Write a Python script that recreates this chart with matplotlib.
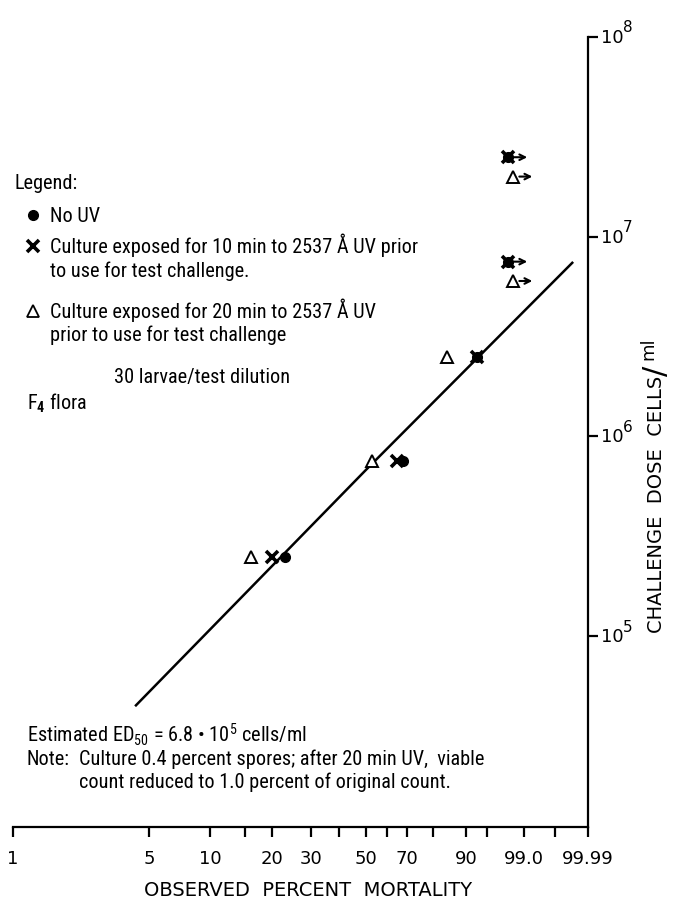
import numpy as np
import matplotlib
matplotlib.use('Agg')
import matplotlib.pyplot as plt
from matplotlib import font_manager, transforms
from matplotlib.lines import Line2D

# observed percent mortality vs challenge dose (cells/ml)
no_uv_pct = [23, 68, 93]
no_uv_dose = [2.5e5, 7.5e5, 2.5e6]
uv10_pct = [20, 65, 93]
uv10_dose = [2.5e5, 7.5e5, 2.5e6]
uv20_pct = [16, 53, 85]
uv20_dose = [2.5e5, 7.5e5, 2.5e6]

# doses giving 100% mortality, drawn at the right with an arrow
top_x_pct = [98.0, 98.0]
top_x_dose = [2.5e7, 7.5e6]
top_tri_pct = [98.4, 98.4]
top_tri_dose = [2.0e7, 6.0e6]

# fitted dose-response line, passes through ED50
fit_pct = [4.3, 50, 99.97]
fit_dose = [4.5e4, 6.8e5, 7.4e6]

# probability paper ruling (percent -> paper units)
paper_pct = np.array([1, 5, 10, 15, 20, 30, 40, 50, 60, 70, 80, 90, 95, 99, 99.9, 99.99])
paper_pos = np.array([13, 149, 210, 245, 272, 311, 339, 366, 387, 407, 433, 466, 487, 524, 555, 588])
tick_text = ['1', '5', '10', '', '20', '30', '', '50', '', '70', '', '90', '', '99.0', '', '99.99']
decades = [5, 6, 7, 8]


def logit(p):
    p = np.clip(np.asarray(p, dtype=float), 1e-4, 100 - 1e-4)
    return np.log(p / (100 - p))


def fwd(p):
    return np.interp(logit(p), logit(paper_pct), paper_pos)


def inv(u):
    l = np.interp(u, paper_pos, logit(paper_pct))
    return 100 / (1 + np.exp(-l))


# narrow typewriter-ish face for the notes, whichever is installed
installed = {f.name for f in font_manager.fontManager.ttflist}
body_font = 'DejaVu Sans'
for cand in ['Liberation Sans Narrow', 'DejaVu Sans Condensed', 'Roboto Condensed',
             'Open Sans Condensed', 'Liberation Sans', 'Roboto']:
    if cand in installed:
        body_font = cand
        break

W, H = 678, 903
plt.rcParams['font.family'] = [body_font, 'DejaVu Sans']
plt.rcParams['mathtext.fontset'] = 'custom'
plt.rcParams['mathtext.rm'] = body_font
plt.rcParams['mathtext.bf'] = body_font + ':bold'

fig = plt.figure(figsize=(W / 100, H / 100), dpi=100)

# size the note text so the longest legend line is about 365 px
probe = fig.text(0, 0, 'Culture exposed for 10 min to 2537 Å UV prior', fontsize=13)
fig.canvas.draw()
body_size = 13 * 365 / probe.get_window_extent().width
probe.remove()

ax = fig.add_axes([13 / W, 1 - 828 / H, (588 - 13) / W, (828 - 38) / H])
ax.set_xscale('function', functions=(fwd, inv))
ax.set_yscale('log')
ax.set_xlim(1, 99.99)
ax.set_ylim(10 ** 4.044, 1e8)

ax.plot(fit_pct, fit_dose, color='black', lw=1.8, zorder=2)

ax.plot(uv20_pct, uv20_dose, ls='none', marker='^', ms=9, mfc='white', mec='black', mew=1.4, zorder=3)
ax.plot(no_uv_pct, no_uv_dose, ls='none', marker='o', ms=7, color='black', zorder=3)
ax.plot(uv10_pct, uv10_dose, ls='none', marker='x', ms=9, mew=2.6, color='black', zorder=4)

ax.plot(top_x_pct, top_x_dose, ls='none', marker='o', ms=7, color='black', zorder=3)
ax.plot(top_x_pct, top_x_dose, ls='none', marker='x', ms=9, mew=2.6, color='black', zorder=4)
ax.plot(top_tri_pct, top_tri_dose, ls='none', marker='^', ms=9, mfc='white', mec='black', mew=1.4, zorder=3)
for p, d in list(zip(top_x_pct, top_x_dose)) + list(zip(top_tri_pct, top_tri_dose)):
    ax.annotate('', xy=(p, d), xytext=(p, d),
                xycoords=transforms.offset_copy(ax.transData, fig=fig, x=19, y=0, units='dots'),
                textcoords=transforms.offset_copy(ax.transData, fig=fig, x=6, y=0, units='dots'),
                arrowprops=dict(arrowstyle='->', lw=1.5, color='black', mutation_scale=10,
                                shrinkA=0, shrinkB=0),
                annotation_clip=False)

# axes frame: only bottom and right rules
for s in ['left', 'top']:
    ax.spines[s].set_visible(False)
for s in ['bottom', 'right']:
    ax.spines[s].set_linewidth(1.6)

ax.set_xticks(paper_pct)
ax.set_xticklabels(tick_text, family='DejaVu Sans', fontsize=13)
ax.xaxis.set_minor_locator(matplotlib.ticker.NullLocator())
ax.tick_params(axis='x', direction='out', length=7, width=1.6, pad=9)

ax.yaxis.tick_right()
ax.set_yticks([10.0 ** e for e in decades])
ax.set_yticklabels([])
ax.yaxis.set_minor_locator(matplotlib.ticker.NullLocator())
ax.tick_params(axis='y', direction='out', length=7, width=1.6)
for e in decades:
    ax.annotate('10', xy=(1, 10 ** e), xycoords=('axes fraction', 'data'), xytext=(13, 0),
                textcoords='offset pixels', ha='left', va='center', fontsize=13,
                family='DejaVu Sans', annotation_clip=False)
    ax.annotate(str(e), xy=(1, 10 ** e), xycoords=('axes fraction', 'data'), xytext=(35, 10),
                textcoords='offset pixels', ha='left', va='center', fontsize=11,
                family='DejaVu Sans', annotation_clip=False)

fig.text(308 / W, 1 - 891 / H, 'OBSERVED  PERCENT  MORTALITY', ha='center', va='center',
         fontsize=14, family='DejaVu Sans')
ylab = fig.text(656 / W, 1 - 633 / H, 'CHALLENGE  DOSE  CELLS', rotation=90, ha='center',
                va='bottom', fontsize=14, family='DejaVu Sans')
ax.annotate('/', xy=(0.5, 1.0), xycoords=ylab, xytext=(0, 0), textcoords='offset pixels',
            rotation=90, ha='center', va='bottom', fontsize=22, family='DejaVu Sans')
ax.annotate('ml', xy=(0.5, 1.0), xycoords=ylab, xytext=(-8, 16), textcoords='offset pixels',
            rotation=90, ha='center', va='bottom', fontsize=13, family='DejaVu Sans')


def put(x, y, s, **kw):
    kw.setdefault('fontsize', body_size)
    kw.setdefault('va', 'baseline')
    return fig.text(x / W, 1 - y / H, s, **kw)


def sym(x, y, **kw):
    fig.add_artist(Line2D([x / W], [1 - y / H], transform=fig.transFigure, ls='none',
                          color='black', **kw))


put(15, 189, 'Legend:')
sym(33, 216, marker='o', ms=7)
put(50, 222, 'No UV')
sym(33, 247, marker='x', ms=8, mew=2.6)
put(50, 253, 'Culture exposed for 10 min to 2537 Å UV prior')
put(50, 277, 'to use for test challenge.')
sym(33, 312, marker='^', ms=8, mfc='white', mec='black', mew=1.3)
put(50, 318, 'Culture exposed for 20 min to 2537 Å UV')
put(50, 341, 'prior to use for test challenge')
put(290, 383, '30 larvae/test dilution', ha='right')
put(27, 410, r'F$_{\mathbf{4}}$ flora')
put(27, 742, r'Estimated ED$_{50}$ = 6.8 • 10$^{5}$ cells/ml')
put(27, 765, 'Note:')
put(79, 765, 'Culture 0.4 percent spores; after 20 min UV,  viable')
put(79, 788, 'count reduced to 1.0 percent of original count.')

fig.savefig('out.png', dpi=100)
